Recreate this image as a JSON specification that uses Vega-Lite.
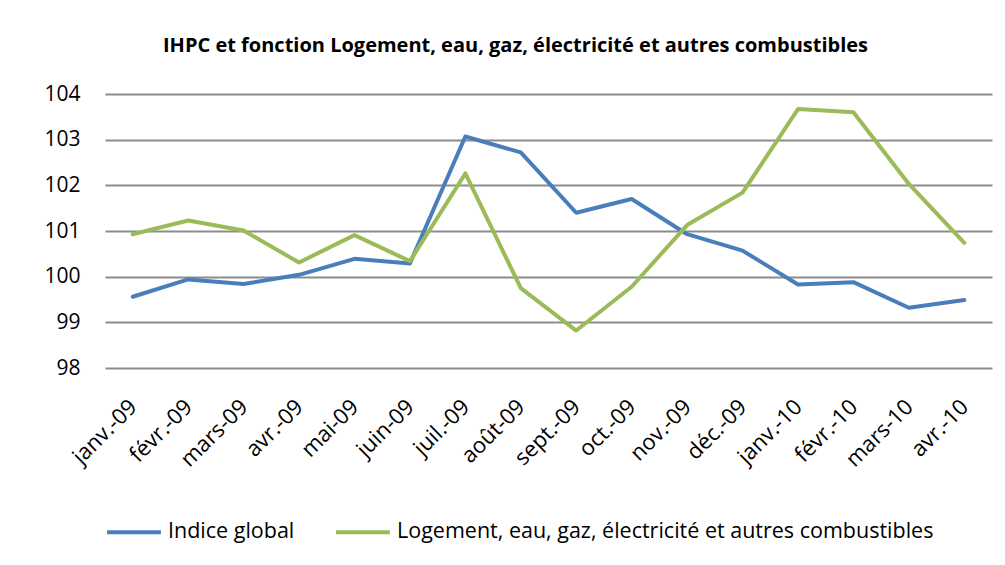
{
  "$schema": "https://vega.github.io/schema/vega-lite/v6.json",
  "width": 887,
  "height": 274,
  "autosize": {"type": "none"},
  "padding": {"left": 105, "top": 94, "right": 13, "bottom": 197},
  "background": "white",
  "title": {
    "text": "IHPC et fonction Logement, eau, gaz, électricité et autres combustibles",
    "font": "Open Sans",
    "fontSize": 20,
    "fontWeight": "bold",
    "color": "#000000",
    "anchor": "middle",
    "offset": 27,
    "dx": -33
  },
  "data": {
    "values": [
      {"mois": "janv.-09", "serie": "Indice global", "valeur": 99.56},
      {"mois": "févr.-09", "serie": "Indice global", "valeur": 99.94},
      {"mois": "mars-09", "serie": "Indice global", "valeur": 99.84},
      {"mois": "avr.-09", "serie": "Indice global", "valeur": 100.04},
      {"mois": "mai-09", "serie": "Indice global", "valeur": 100.39},
      {"mois": "juin-09", "serie": "Indice global", "valeur": 100.29},
      {"mois": "juil.-09", "serie": "Indice global", "valeur": 103.07},
      {"mois": "août-09", "serie": "Indice global", "valeur": 102.72},
      {"mois": "sept.-09", "serie": "Indice global", "valeur": 101.40},
      {"mois": "oct.-09", "serie": "Indice global", "valeur": 101.70},
      {"mois": "nov.-09", "serie": "Indice global", "valeur": 100.93},
      {"mois": "déc.-09", "serie": "Indice global", "valeur": 100.57},
      {"mois": "janv.-10", "serie": "Indice global", "valeur": 99.83},
      {"mois": "févr.-10", "serie": "Indice global", "valeur": 99.88},
      {"mois": "mars-10", "serie": "Indice global", "valeur": 99.32},
      {"mois": "avr.-10", "serie": "Indice global", "valeur": 99.49},
      {"mois": "janv.-09", "serie": "Logement, eau, gaz, électricité et autres combustibles", "valeur": 100.93},
      {"mois": "févr.-09", "serie": "Logement, eau, gaz, électricité et autres combustibles", "valeur": 101.23},
      {"mois": "mars-09", "serie": "Logement, eau, gaz, électricité et autres combustibles", "valeur": 101.01},
      {"mois": "avr.-09", "serie": "Logement, eau, gaz, électricité et autres combustibles", "valeur": 100.31},
      {"mois": "mai-09", "serie": "Logement, eau, gaz, électricité et autres combustibles", "valeur": 100.91},
      {"mois": "juin-09", "serie": "Logement, eau, gaz, électricité et autres combustibles", "valeur": 100.34},
      {"mois": "juil.-09", "serie": "Logement, eau, gaz, électricité et autres combustibles", "valeur": 102.26},
      {"mois": "août-09", "serie": "Logement, eau, gaz, électricité et autres combustibles", "valeur": 99.75},
      {"mois": "sept.-09", "serie": "Logement, eau, gaz, électricité et autres combustibles", "valeur": 98.82},
      {"mois": "oct.-09", "serie": "Logement, eau, gaz, électricité et autres combustibles", "valeur": 99.78},
      {"mois": "nov.-09", "serie": "Logement, eau, gaz, électricité et autres combustibles", "valeur": 101.13},
      {"mois": "déc.-09", "serie": "Logement, eau, gaz, électricité et autres combustibles", "valeur": 101.84},
      {"mois": "janv.-10", "serie": "Logement, eau, gaz, électricité et autres combustibles", "valeur": 103.67},
      {"mois": "févr.-10", "serie": "Logement, eau, gaz, électricité et autres combustibles", "valeur": 103.60},
      {"mois": "mars-10", "serie": "Logement, eau, gaz, électricité et autres combustibles", "valeur": 102.03},
      {"mois": "avr.-10", "serie": "Logement, eau, gaz, électricité et autres combustibles", "valeur": 100.74}
    ]
  },
  "mark": {"type": "line", "strokeWidth": 4, "strokeCap": "round", "strokeJoin": "round"},
  "encoding": {
    "x": {
      "field": "mois",
      "type": "ordinal",
      "sort": ["janv.-09", "févr.-09", "mars-09", "avr.-09", "mai-09", "juin-09", "juil.-09", "août-09", "sept.-09", "oct.-09", "nov.-09", "déc.-09", "janv.-10", "févr.-10", "mars-10", "avr.-10"],
      "scale": {"type": "point", "padding": 0.5},
      "axis": {
        "title": null,
        "labelAngle": -45,
        "labelAlign": "right",
        "labelBaseline": "middle",
        "labelFont": "Open Sans",
        "labelFontSize": 22,
        "labelColor": "#000000",
        "labelPadding": 35,
        "ticks": false,
        "domain": false,
        "grid": false
      }
    },
    "y": {
      "field": "valeur",
      "type": "quantitative",
      "scale": {"domain": [98, 104], "nice": false, "zero": false},
      "axis": {
        "title": null,
        "values": [98, 99, 100, 101, 102, 103, 104],
        "labelFont": "Open Sans",
        "labelFontSize": 21,
        "labelColor": "#000000",
        "labelPadding": 25,
        "ticks": false,
        "domain": false,
        "grid": true,
        "gridColor": "#8c8c8c",
        "gridWidth": 2
      }
    },
    "color": {
      "field": "serie",
      "type": "nominal",
      "scale": {
        "domain": ["Indice global", "Logement, eau, gaz, électricité et autres combustibles"],
        "range": ["#4a7ebb", "#9bbb59"]
      },
      "legend": {
        "title": null,
        "orient": "none",
        "direction": "horizontal",
        "legendX": 0,
        "legendY": 409,
        "symbolType": "stroke",
        "symbolSize": 2900,
        "symbolStrokeWidth": 4,
        "labelFont": "Open Sans",
        "labelFontSize": 21.5,
        "labelColor": "#000000",
        "labelOffset": 5,
        "columnPadding": 33,
        "labelLimit": 800
      }
    }
  },
  "config": {
    "view": {"stroke": null}
  }
}
